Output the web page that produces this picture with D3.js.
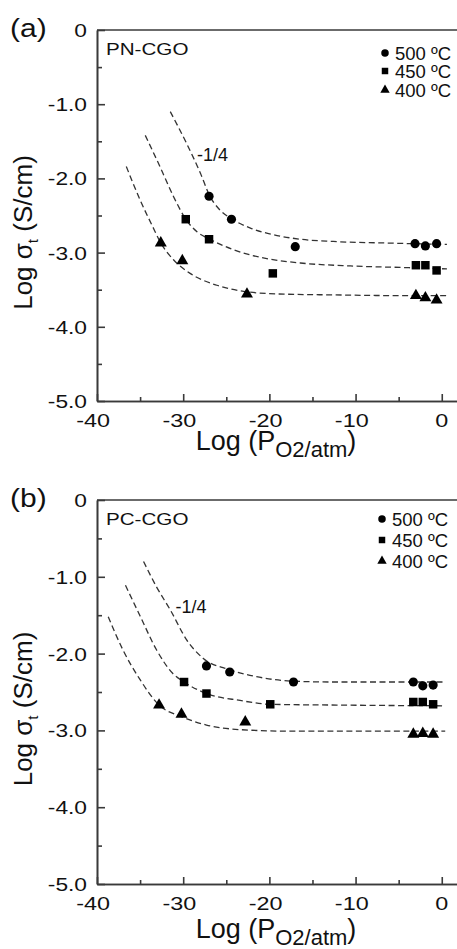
<!DOCTYPE html>
<html>
<head>
<meta charset="utf-8">
<script src="https://cdn.jsdelivr.net/npm/d3@7"></script>
<style>
    body { margin: 0; background: #fff; }
    text { font-family: "Liberation Sans", Arial, sans-serif; fill: #111; }
</style>
</head>
<body>
<svg id="chart" width="457" height="949"></svg>
<script>
// ticks and legend
var xMajor = [-40, -30, -20, -10, 0];
var xMinor = [-35, -25, -15, -5];
var yMajor = [0, -1, -2, -3, -4, -5];
var yMinor = [-0.5, -1.5, -2.5, -3.5, -4.5];
var temps = ['500 ºC', '450 ºC', '400 ºC'];

// panel (a) PN-CGO measured points
var a500x = [-27.0, -24.4, -17.0, -3.1, -1.9, -0.6];
var a500y = [-2.24, -2.55, -2.92, -2.88, -2.91, -2.88];
var a450x = [-29.7, -27.0, -19.6, -3.0, -1.9, -0.6];
var a450y = [-2.55, -2.82, -3.28, -3.17, -3.17, -3.24];
var a400x = [-32.6, -30.1, -22.6, -3.0, -1.9, -0.6];
var a400y = [-2.87, -3.11, -3.56, -3.58, -3.61, -3.64];

// panel (a) dashed fits
var aFit500 = [[-31.5, -1.10], [-29.6, -1.53], [-28.0, -1.93], [-26.9, -2.24], [-25.7, -2.43], [-24.3, -2.55],
    [-22.2, -2.67], [-19.5, -2.76], [-16.4, -2.82], [-12.6, -2.85], [-6.7, -2.87], [0.6, -2.89]];
var aFit450 = [[-34.4, -1.42], [-32.7, -1.84], [-31.1, -2.25], [-29.7, -2.55], [-28.4, -2.72], [-26.9, -2.82],
    [-24.2, -2.96], [-20.3, -3.08], [-16.4, -3.14], [-10.6, -3.18], [-4.8, -3.20], [0.6, -3.22]];
var aFit400 = [[-36.6, -1.84], [-35.0, -2.29], [-33.5, -2.66], [-32.6, -2.87], [-31.1, -3.10], [-29.2, -3.28],
    [-26.1, -3.44], [-22.5, -3.53], [-18.3, -3.56], [-12.5, -3.57], [-4.8, -3.58], [0.6, -3.58]];

// panel (b) PC-CGO measured points
var b500x = [-27.3, -24.6, -17.2, -3.3, -2.2, -1.0];
var b500y = [-2.16, -2.24, -2.37, -2.37, -2.42, -2.41];
var b450x = [-29.9, -27.3, -19.9, -3.3, -2.2, -1.0];
var b450y = [-2.37, -2.52, -2.66, -2.63, -2.63, -2.66];
var b400x = [-32.8, -30.2, -22.8, -3.3, -2.2, -1.0];
var b400y = [-2.67, -2.79, -2.89, -3.05, -3.04, -3.05];

// panel (b) dashed fits
var bFit500 = [[-34.6, -0.80], [-33.1, -1.13], [-31.5, -1.43], [-29.6, -1.82], [-27.7, -2.06], [-24.6, -2.21],
    [-21.5, -2.30], [-17.2, -2.36], [-12.2, -2.37], [0.4, -2.37]];
var bFit450 = [[-36.7, -1.11], [-35.0, -1.51], [-33.1, -1.95], [-31.2, -2.26], [-29.9, -2.37], [-27.3, -2.52],
    [-23.4, -2.61], [-19.9, -2.66], [-12.2, -2.67], [0.4, -2.68]];
var bFit400 = [[-38.7, -1.52], [-37.0, -1.95], [-35.0, -2.34], [-32.8, -2.67], [-30.2, -2.82], [-27.3, -2.93],
    [-23.4, -2.99], [-17.6, -3.01], [0.4, -3.01]];

// slope annotation positions (data units)
var slopeA = [-28.4, -1.77];
var slopeB = [-30.9, -1.47];

var symbols = [d3.symbolCircle, d3.symbolSquare, d3.symbolTriangle];
var markSize = [66, 72, 62];
var legSize = [44, 42, 38];
var axisColor = '#3a3a3a';
var sx = 1.3; // tick labels in the figure are drawn wide

var panels = [
    {tag: '(a)', name: 'PN-CGO', top: 30, bottom: 401, tagY: 37, xs: [a500x, a450x, a400x], ys: [a500y, a450y, a400y],
        fits: [aFit500, aFit450, aFit400], slope: slopeA, legX: 385, legY: [53, 71, 90], titleY: 450},
    {tag: '(b)', name: 'PC-CGO', top: 500, bottom: 884, tagY: 507, xs: [b500x, b450x, b400x], ys: [b500y, b450y, b400y],
        fits: [bFit500, bFit450, bFit400], slope: slopeB, legX: 382, legY: [519, 540, 561], titleY: 938}
];

var svg = d3.select('#chart');
var left = 97, right = 459;

panels.forEach(function (p) {
    var g = svg.append('g');

    var xScale = d3.scaleLinear().domain([-40, 2]).range([left, right]);
    var yScale = d3.scaleLinear().domain([-5, 0]).range([p.bottom, p.top]);

    // dashed fit curves
    var line = d3.line()
        .x(d => xScale(d[0]))
        .y(d => yScale(d[1]))
        .curve(d3.curveMonotoneX);
    p.fits.forEach(function (f) {
        g.append('path')
            .attr('d', line(f))
            .attr('fill', 'none')
            .attr('stroke', '#333')
            .attr('stroke-width', 1.3)
            .attr('stroke-dasharray', '6,3.5');
    });

    // markers
    p.xs.forEach(function (xs, k) {
        g.selectAll(null)
            .data(xs.map((x, i) => [x, p.ys[k][i]]))
            .enter()
            .append('path')
            .attr('d', d3.symbol().type(symbols[k]).size(markSize[k]))
            .attr('transform', d => `translate(${xScale(d[0])},${yScale(d[1])})`)
            .attr('fill', '#000');
    });

    // ticks (inward), labels drawn separately below
    g.append('g')
        .attr('transform', `translate(${left},0)`)
        .call(d3.axisLeft(yScale).tickValues(yMinor).tickSize(-5).tickSizeOuter(0).tickFormat(''));
    g.append('g')
        .attr('transform', `translate(0,${p.bottom})`)
        .call(d3.axisBottom(xScale).tickValues(xMinor).tickSize(-4).tickSizeOuter(0).tickFormat(''));
    g.append('g')
        .attr('transform', `translate(${left},0)`)
        .call(d3.axisLeft(yScale).tickValues(yMajor).tickSize(-8).tickSizeOuter(0).tickFormat(''));
    g.append('g')
        .attr('transform', `translate(0,${p.bottom})`)
        .call(d3.axisBottom(xScale).tickValues(xMajor).tickSize(-7).tickSizeOuter(0).tickFormat(''));

    g.selectAll('.domain, .tick line')
        .attr('stroke', axisColor)
        .attr('stroke-width', 1.6);

    // tick labels, stretched like the original
    g.selectAll('text.ylab')
        .data(yMajor)
        .enter()
        .append('text')
        .attr('class', 'ylab')
        .attr('transform', d => `translate(${left - 10},${yScale(d) + 7}) scale(${sx},1)`)
        .attr('text-anchor', 'end')
        .style('font-size', '17.5px')
        .text(d => d === 0 ? '0' : d.toFixed(1));
    g.selectAll('text.xlab')
        .data(xMajor)
        .enter()
        .append('text')
        .attr('class', 'xlab')
        .attr('transform', d => `translate(${xScale(d) - (d < 0 ? 3.8 : 0)},${p.bottom + 26}) scale(${sx},1)`)
        .attr('text-anchor', 'middle')
        .style('font-size', '18px')
        .text(d => String(d));

    // top frame line
    g.append('line')
        .attr('x1', xScale(-40)).attr('x2', xScale(2))
        .attr('y1', yScale(0)).attr('y2', yScale(0))
        .attr('stroke', axisColor)
        .attr('stroke-width', 1.6);

    // panel tag and sample name
    g.append('text')
        .attr('transform', `translate(10,${p.tagY}) scale(1.2,1)`)
        .style('font-size', '25px')
        .text(p.tag);
    g.append('text')
        .attr('transform', `translate(106,${p.top + 25}) scale(1.25,1)`)
        .style('font-size', '16.5px')
        .text(p.name);

    // slope label
    g.append('text')
        .attr('x', xScale(p.slope[0]))
        .attr('y', yScale(p.slope[1]))
        .style('font-size', '18px')
        .text('-1/4');

    // legend
    temps.forEach(function (t, k) {
        g.append('path')
            .attr('d', d3.symbol().type(symbols[k]).size(legSize[k]))
            .attr('transform', `translate(${p.legX},${p.legY[k]})`)
            .attr('fill', '#000');
        g.append('text')
            .attr('x', p.legX + 10)
            .attr('y', p.legY[k] + 6.5)
            .style('font-size', '18.5px')
            .text(t);
    });

    // axis titles
    var xt = g.append('text')
        .attr('x', 276)
        .attr('y', p.titleY)
        .attr('text-anchor', 'middle')
        .style('font-size', '27px');
    xt.append('tspan').text('Log (P');
    xt.append('tspan').attr('dy', 7).style('font-size', '22px').text('O2/atm');
    xt.append('tspan').attr('dy', -7).text(')');

    var yt = g.append('text')
        .attr('transform', `translate(32,${(p.top + p.bottom) / 2 + 17}) rotate(-90)`)
        .attr('text-anchor', 'middle')
        .style('font-size', '26px');
    yt.append('tspan').text('Log σ');
    yt.append('tspan').attr('dy', 6).style('font-size', '15px').text('t');
    yt.append('tspan').attr('dy', -6).text(' (S/cm)');
});
</script>
</body>
</html>
